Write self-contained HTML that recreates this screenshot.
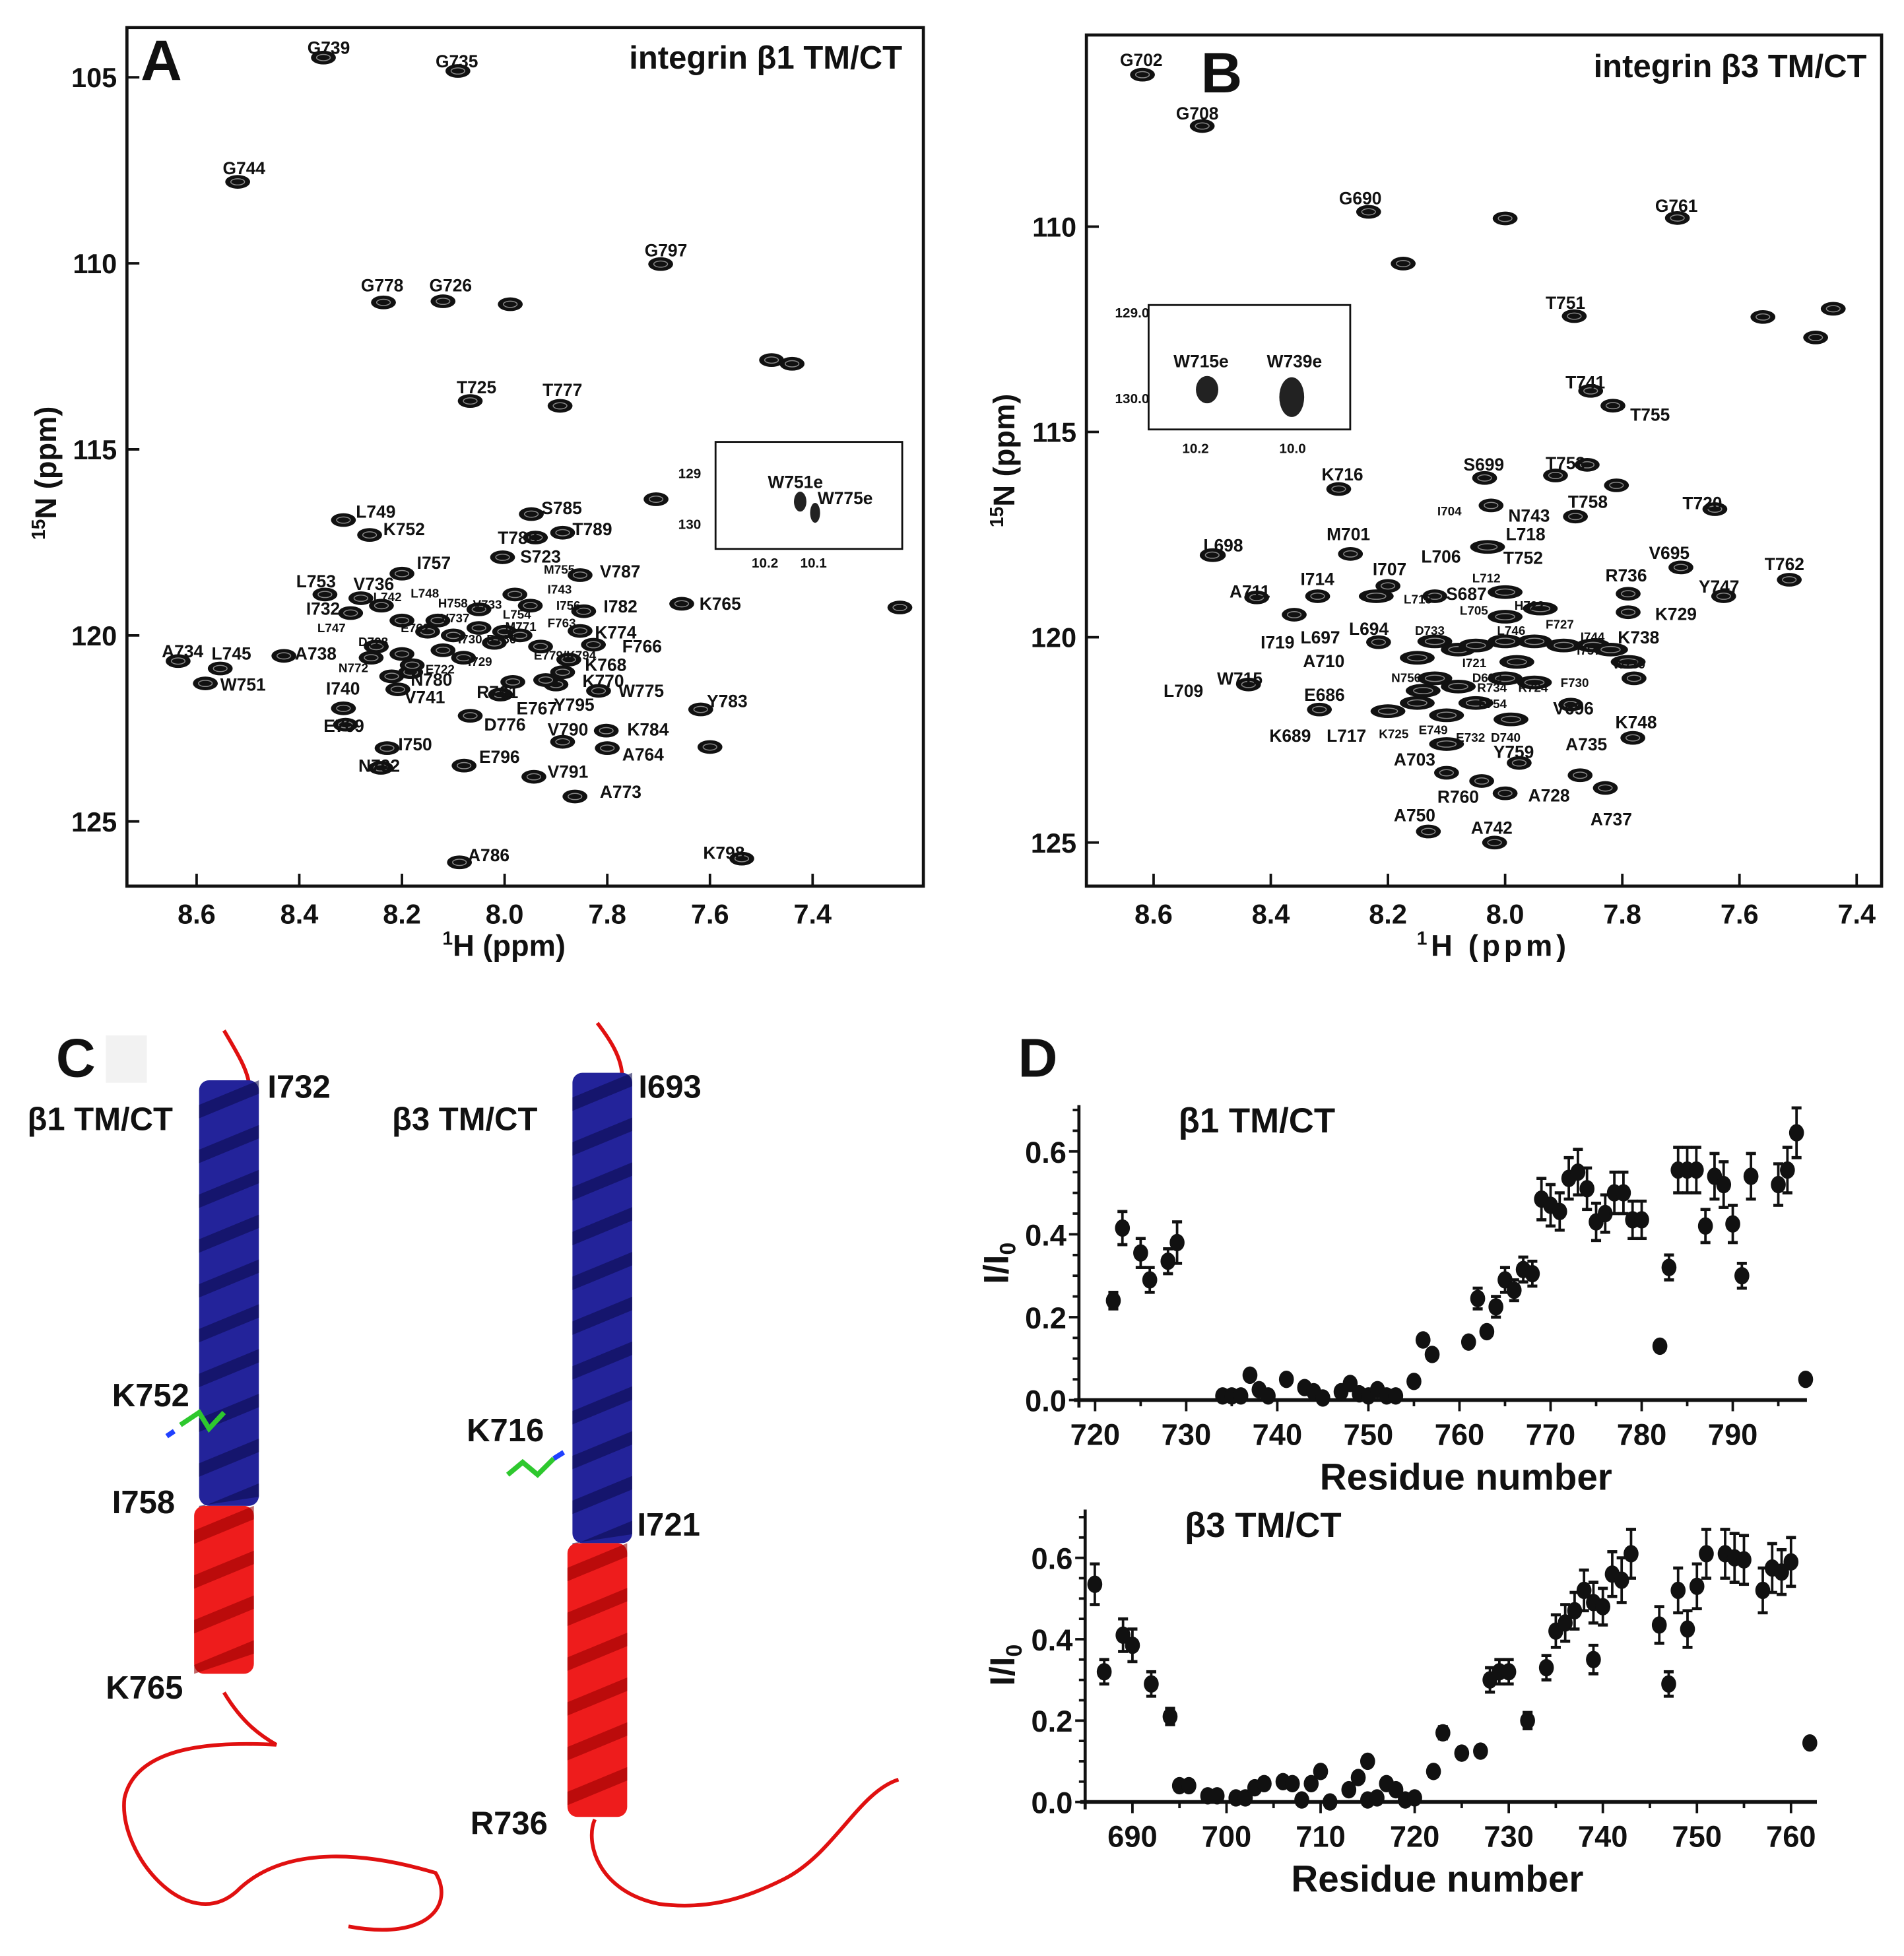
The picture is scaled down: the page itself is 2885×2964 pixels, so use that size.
<!DOCTYPE html>
<html><head><meta charset="utf-8"><style>
html,body{margin:0;padding:0;background:#fff}
svg text{font-family:"Liberation Sans",sans-serif;font-weight:bold;fill:#111}
</style></head><body>
<svg id="fig" width="2885" height="2959" viewBox="0 0 1530 1569" xmlns="http://www.w3.org/2000/svg">
<rect width="1530" height="1569" fill="#fff"/>
<!-- Panel A -->
<g id="pa">
<rect x="102" y="22" width="640" height="690" fill="none" stroke="#111" stroke-width="2.5"/>
<text x="113" y="64" font-size="46">A</text>
<text x="725" y="55" font-size="26" text-anchor="end">integrin  β1 TM/CT</text>
<text x="405" y="768" font-size="24" text-anchor="middle"><tspan font-size="15" dy="-9">1</tspan><tspan dy="9">H (ppm)</tspan></text>
<text transform="translate(45,380) rotate(-90)" font-size="24" text-anchor="middle"><tspan font-size="15" dy="-9">15</tspan><tspan dy="9">N (ppm)</tspan></text>
<g id="pa-ticks"></g><g id="pa-peaks"></g><g id="pa-labels" font-size="14"></g>
<rect x="575" y="355" width="150" height="86" fill="#fff" stroke="#111" stroke-width="1.5"/>
<ellipse cx="643" cy="403" rx="5" ry="8" fill="#222"/>
<ellipse cx="655" cy="412" rx="4" ry="8" fill="#222"/>
<text x="617" y="392" font-size="14">W751e</text><text x="657" y="405" font-size="14">W775e</text>
<text x="545" y="384" font-size="11">129</text><text x="545" y="425" font-size="11">130</text>
<text x="604" y="456" font-size="11">10.2</text><text x="643" y="456" font-size="11">10.1</text>
</g>
<!-- Panel B -->
<g id="pb">
<rect x="873" y="28" width="639" height="684" fill="none" stroke="#111" stroke-width="2.5"/>
<text x="965" y="74" font-size="46">B</text>
<text x="1500" y="62" font-size="26" text-anchor="end">integrin  β3 TM/CT</text>
<text x="1200" y="768" font-size="24" text-anchor="middle" letter-spacing="3"><tspan font-size="15" dy="-9">1</tspan><tspan dy="9">H (ppm)</tspan></text>
<text transform="translate(815,370) rotate(-90)" font-size="24" text-anchor="middle"><tspan font-size="15" dy="-9">15</tspan><tspan dy="9">N (ppm)</tspan></text>
<g id="pb-ticks"></g><g id="pb-peaks"></g><g id="pb-labels" font-size="14"></g>
<rect x="923" y="245" width="162" height="100" fill="#fff" stroke="#111" stroke-width="1.5"/>
<ellipse cx="970" cy="313" rx="9" ry="11" fill="#222"/>
<ellipse cx="1038" cy="319" rx="10" ry="16" fill="#222"/>
<text x="943" y="295" font-size="14">W715e</text><text x="1018" y="295" font-size="14">W739e</text>
<text x="896" y="255" font-size="11">129.0</text><text x="896" y="324" font-size="11">130.0</text>
<text x="950" y="364" font-size="11">10.2</text><text x="1028" y="364" font-size="11">10.0</text>
</g>
<!-- Panel C -->
<g id="pc">
<text x="45" y="865" font-size="44">C</text>
<rect x="85" y="832" width="33" height="38" fill="#f2f2f2"/>
<path d="M180,828 C190,845 198,858 200,870" stroke="#e01010" stroke-width="3" fill="none"/>
<path d="M480,822 C490,835 500,850 500,866" stroke="#e01010" stroke-width="3" fill="none"/>
<path d="M180,1360 C195,1385 210,1395 222,1402 C180,1400 110,1400 100,1445 C95,1490 150,1555 190,1520 C230,1480 300,1490 350,1505 C365,1530 345,1560 280,1548" stroke="#e01010" stroke-width="3" fill="none"/>
<path d="M478,1462 C470,1480 480,1520 530,1530 C570,1535 600,1525 630,1510 C670,1490 690,1440 722,1430" stroke="#e01010" stroke-width="3" fill="none"/>
<g id="helices"></g>
<g stroke-width="4"><path d="M145,1145 L160,1135 L168,1148 L180,1135" stroke="#2ec82e" fill="none"/><path d="M140,1150 l-6,4" stroke="#2040ff"/></g>
<g stroke-width="4"><path d="M408,1185 L420,1175 L432,1185 L445,1172" stroke="#2ec82e" fill="none"/><path d="M445,1172 l8,-5" stroke="#2040ff"/></g>
<text x="22" y="908" font-size="26">β1 TM/CT</text><text x="315" y="908" font-size="26">β3 TM/CT</text>
<text x="215" y="882" font-size="26">I732</text><text x="90" y="1130" font-size="26">K752</text>
<text x="90" y="1216" font-size="26">I758</text><text x="85" y="1365" font-size="26">K765</text>
<text x="513" y="882" font-size="26">I693</text><text x="375" y="1158" font-size="26">K716</text>
<text x="512" y="1234" font-size="26">I721</text><text x="378" y="1474" font-size="26">R736</text>
</g>
<!-- Panel D -->
<g id="pd">
<text x="818" y="865" font-size="44">D</text>
<g id="d1"></g><g id="d2"></g>
</g>
</svg>
<script>
var NS='http://www.w3.org/2000/svg';
function mk(tag,attrs,parent){var e=document.createElementNS(NS,tag);for(var k in attrs)e.setAttribute(k,attrs[k]);parent.appendChild(e);return e;}
// ---- Panel A data ----
var aH=[8.353,8.091,8.52,7.696,8.236,8.12,7.989,8.067,7.892,7.948,7.94,7.887,8.314,8.263,8.004,7.853,8.2,7.655,8.636,8.554,8.583,8.43,8.314,8.31,7.827,7.817,7.618,7.802,7.8,7.887,7.943,7.863,8.079,8.241,8.229,8.067,8.008,7.984,7.9,7.887,7.875,7.853,7.846,8.208,8.183,8.088,7.538,7.705,7.23,7.48,7.44,7.6,
8.28,8.24,8.2,8.15,8.1,8.05,8.0,7.97,7.95,7.98,8.25,8.2,8.18,8.22,8.12,8.08,8.02,7.93,7.92,8.05,8.3,8.35,8.26,8.13];
var aN=[104.47,104.83,107.81,110.02,111.05,111.02,111.1,113.7,113.83,116.74,117.37,117.24,116.9,117.3,117.9,118.38,118.34,119.15,120.69,120.89,121.29,120.55,121.96,122.4,120.25,121.49,121.99,122.56,123.03,122.86,123.8,124.33,123.5,123.56,123.03,122.16,121.59,121.25,121.32,120.99,120.65,119.88,119.35,121.45,120.99,126.1,126.0,116.34,119.25,112.6,112.7,123.0,
119.0,119.2,119.6,119.9,120.0,119.8,119.9,120.0,119.2,118.9,120.3,120.5,120.8,121.1,120.4,120.6,120.2,120.3,121.2,119.3,119.4,118.9,120.6,119.6];
var aLabels=[["G739",247,43],["G735",350,54],["G744",179,140],["G797",518,206],["G778",290,234],["G726",345,234],["T725",367,316],["T777",436,318],["S785",435,413],["T788",400,437],["T789",460,430],["L749",286,416],["K752",308,430],["S723",418,452],["V787",482,464],["I757",335,457],["K765",562,490],["A734",130,528],["L745",170,530],["W751",177,555],["A738",237,530],["I740",262,558],["E769",260,588],["F766",500,524],["W775",497,560],["Y783",568,568],["K784",504,591],["A764",500,611],["V790",440,591],["V791",440,625],["A773",482,641],["E796",385,613],["N792",288,620],["I750",320,603],["D776",389,587],["R761",383,561],["E767",415,574],["Y795",445,571],["K770",468,552],["K768",470,539],["K774",478,513],["I782",485,492],["V741",325,565],["N780",330,551],["A786",376,692],["K798",565,690],["V736",284,474],["L753",238,472],["I732",246,494]];
var aSmall=[["L747",255,508],["L742",300,483],["L748",330,480],["H758",352,488],["V733",380,489],["M755",437,461],["I743",440,477],["I756",447,490],["L754",404,497],["D728",288,519],["E762",322,508],["N772",272,540],["E722",342,541],["I729",376,535],["R760",391,517],["I730",368,517],["M771",406,507],["F763",440,504],["E779/K794",429,530],["V737",354,500]];
// ---- Panel B data ----
var bH=[8.619,8.517,8.233,7.706,8.174,8.0,7.882,7.854,7.816,8.284,8.035,7.914,7.88,8.024,7.642,8.498,8.264,7.7,7.515,7.79,7.79,7.627,8.424,8.36,8.216,8.438,8.317,7.888,7.782,7.976,7.872,7.829,8.131,8.018,7.86,7.81,7.56,7.47,7.44,8.1,8.0,8.04,8.12,8.32,8.2,8.5,7.78,
8.12,8.08,8.05,8.0,7.95,7.9,7.85,7.82,8.12,8.08,8.05,8.0,7.95,8.15,8.2,8.1,7.98,8.15,8.03,8.0,8.0,7.94,8.22,8.14,7.99,7.79,8.1];
var bN=[106.3,107.55,109.64,109.79,110.9,109.8,112.18,114.0,114.36,116.39,116.12,116.06,117.06,116.79,116.88,118.0,117.97,118.3,118.6,118.94,119.39,119.0,119.03,119.45,120.12,121.15,121.76,121.64,122.45,123.06,123.36,123.67,124.73,125.0,115.8,116.3,112.2,112.7,112.0,123.3,123.8,123.5,119.0,119.0,118.75,118.0,121.0,
120.1,120.3,120.2,120.1,120.1,120.2,120.2,120.3,121.0,121.2,121.6,121.0,121.1,121.6,121.8,121.9,120.6,120.5,117.8,118.9,119.5,119.3,119.0,121.3,122.0,120.6,122.6];
var bLabels=[["G702",900,53],["G708",945,96],["G690",1076,164],["G761",1330,170],["T751",1242,248],["T741",1258,312],["T755",1310,338],["K716",1062,386],["S699",1176,378],["T753",1242,377],["T758",1260,408],["N743",1212,419],["L718",1210,434],["L706",1142,452],["T752",1208,453],["S687",1162,482],["T720",1352,409],["L698",967,443],["M701",1066,434],["V695",1325,449],["T762",1418,458],["R736",1290,467],["K729",1330,498],["Y747",1365,476],["K738",1300,517],["A711",988,480],["I707",1103,462],["L697",1045,517],["I719",1013,521],["L694",1084,510],["A710",1047,536],["W715",978,550],["E686",1048,563],["L709",935,560],["K689",1020,596],["L717",1066,596],["V696",1248,574],["K748",1298,585],["Y759",1200,609],["A735",1258,603],["A737",1278,663],["A703",1120,615],["R760",1155,645],["A728",1228,644],["A750",1120,660],["A742",1182,670],["I714",1045,470]];
var bSmall=[["I704",1155,414],["L712",1183,468],["L705",1173,494],["L713",1128,485],["H722",1217,490],["F727",1242,505],["I744",1270,515],["L746",1203,510],["I757",1267,526],["W739",1296,537],["R734",1187,556],["R724",1220,556],["F730",1254,552],["F754",1188,569],["D733",1137,510],["I721",1175,536],["N756",1118,548],["D692",1183,548],["K725",1108,593],["E749",1140,590],["E732",1170,596],["D740",1198,596]];
var aXTicks=[8.6,8.4,8.2,8.0,7.8,7.6,7.4], aYTicks=[105,110,115,120,125];
var bXTicks=[8.6,8.4,8.2,8.0,7.8,7.6,7.4], bYTicks=[110,115,120,125];
function axA(h){return 158+(8.6-h)*412.5;} function ayA(n){return 62+(n-105)*29.9;}
function axB(h){return 927+(8.6-h)*470.8;} function ayB(n){return 182+(n-110)*33;}
function hsqc(gt,gp,gl,H,N,L,S,xt,yt,fx,fy,x0,x1,yb,big){
  xt.forEach(function(t){var x=fx(t);mk('line',{x1:x,x2:x,y1:yb,y2:yb-10,stroke:'#111','stroke-width':2},gt);
    var tx=mk('text',{x:x,y:yb+30,'font-size':22,'text-anchor':'middle'},gt);tx.textContent=t.toFixed(1);
    
    });
  yt.forEach(function(t){var y=fy(t);mk('line',{x1:x0,x2:x0+10,y1:y,y2:y,stroke:'#111','stroke-width':2},gt);
    var tx=mk('text',{x:x0-8,y:y+8,'font-size':22,'text-anchor':'end'},gt);tx.textContent=t;
    
    });
  for(var i=0;i<H.length;i++){var cx=fx(H[i]),cy=fy(N[i]);var r=big&&i>=47?14:10;
    var e=mk('ellipse',{cx:cx,cy:cy,rx:r,ry:5.5,fill:'#111'},gp);
    
    
    mk('ellipse',{cx:cx,cy:cy,rx:r*0.55,ry:2.5,fill:'none',stroke:'#888','stroke-width':0.8},gp);}
  L.forEach(function(l){var t=mk('text',{x:l[1],y:l[2]},gl);t.textContent=l[0];
    
    });
  S.forEach(function(l){var t=mk('text',{x:l[1],y:l[2],'font-size':10},gl);t.textContent=l[0];
    
    });
}
hsqc(document.getElementById('pa-ticks'),document.getElementById('pa-peaks'),document.getElementById('pa-labels'),aH,aN,aLabels,aSmall,aXTicks,aYTicks,axA,ayA,102,742,712,false);
hsqc(document.getElementById('pb-ticks'),document.getElementById('pb-peaks'),document.getElementById('pb-labels'),bH,bN,bLabels,bSmall,bXTicks,bYTicks,axB,ayB,873,1512,712,true);
// ---- Helices ----
var hg=document.getElementById('helices');
function helix(cx,y1,y2,color,dark){var w=48,p=36;
  mk('rect',{x:cx-w/2,y:y1,width:w,height:y2-y1,fill:color,rx:8},hg);
  for(var y=y1;y<y2-6;y+=p){
    mk('path',{d:'M'+(cx-w/2)+','+(y+p*0.55)+' L'+(cx+w/2)+','+y+' L'+(cx+w/2)+','+(y+p*0.3)+' L'+(cx-w/2)+','+Math.min(y+p*0.85,y2)+'Z',fill:dark,opacity:0.6},hg);}
}
helix(184,868,1210,'#23239a','#0c0c50');helix(180,1210,1345,'#ee1c1c','#900');
helix(484,862,1240,'#23239a','#0c0c50');helix(480,1240,1460,'#ee1c1c','#900');
// ---- Panel D data ----
var d1Res=[722,723,725,726,728,729,734,735,736,737,738,739,741,743,744,745,747,748,749,750,751,752,753,755,756,757,761,762,763,764,765,766,767,768,769,770,771,772,773,774,775,776,777,778,779,780,782,783,784,785,786,787,788,789,790,791,792,795,796,797,798];
var d1Val=[.24,.415,.355,.29,.335,.38,.01,.01,.01,.06,.025,.01,.05,.03,.02,.005,.02,.04,.015,.01,.025,.01,.01,.045,.145,.11,.14,.245,.165,.225,.29,.265,.315,.305,.485,.47,.455,.535,.55,.51,.43,.45,.5,.5,.435,.435,.13,.32,.555,.555,.555,.42,.54,.52,.425,.3,.54,.52,.555,.645,.05];
var d1Err=[.02,.04,.035,.03,.03,.05,0,0,0,0,0,0,0,0,0,0,0,0,0,0,0,0,0,0,0,0,0,.025,0,.025,.03,.025,.03,.03,.05,.05,.045,.05,.055,.05,.045,.045,.05,.05,.045,.045,0,.03,.055,.055,.055,.04,.055,.055,.045,.03,.055,.05,.055,.06,0];
var d2Res=[686,687,689,690,692,694,695,696,698,699,701,702,703,704,706,707,708,709,710,711,713,714,715,715,716,717,718,719,720,722,723,725,727,728,729,730,732,734,735,736,737,738,739,739,740,741,742,743,746,747,748,749,750,751,753,754,755,757,758,759,760,762];
var d2Val=[.535,.32,.41,.385,.29,.21,.04,.04,.015,.015,.01,.01,.035,.045,.05,.045,.005,.045,.075,0,.03,.06,.1,.005,.01,.045,.03,.005,.01,.075,.17,.12,.125,.3,.32,.32,.2,.33,.42,.44,.47,.52,.35,.49,.48,.56,.545,.61,.435,.29,.52,.425,.53,.61,.61,.6,.595,.52,.575,.565,.59,.145];
var d2Err=[.05,.03,.04,.04,.03,.02,0,0,0,0,0,0,0,0,0,0,0,0,0,0,0,0,0,0,0,0,0,0,0,0,.015,0,0,.03,.03,.03,.02,.03,.04,.045,.045,.05,.035,.05,.045,.055,.055,.06,.045,.03,.055,.045,.055,.06,.06,.06,.06,.055,.06,.055,.06,0];
var d1XTicks=[720,730,740,750,760,770,780,790], d2XTicks=[690,700,710,720,730,740,750,760], dYTicks=[0,0.2,0.4,0.6];
function plotD(g,R,V,E,xt,o,title){
  var fx=function(r){return o.x0px+(r-o.r0)*o.pxr;}, fy=function(v){return o.y0-v*o.pyv;};
  mk('line',{x1:o.ax,x2:o.ax,y1:o.top,y2:o.y0+6,stroke:'#111','stroke-width':2.5},g);
  mk('line',{x1:o.ax-4,x2:o.right,y1:o.y0,y2:o.y0,stroke:'#111','stroke-width':3},g);
  for(var v=0;v<=0.7001;v+=0.05){var y=fy(v);var mj=Math.abs(v*10-Math.round(v*10))<1e-6&&Math.round(v*10)%2==0;
    mk('line',{x1:o.ax-(mj?8:5),x2:o.ax,y1:y,y2:y,stroke:'#111','stroke-width':2},g);}
  dYTicks.forEach(function(t){var tx=mk('text',{x:o.ax-10,y:fy(t)+9,'font-size':24,'text-anchor':'end'},g);tx.textContent=t.toFixed(1);
    
    });
  for(var r=o.rmin;r<=o.rmax;r+=5){var x=fx(r);mk('line',{x1:x,x2:x,y1:o.y0,y2:o.y0+(r%10==0?9:5),stroke:'#111','stroke-width':2},g);}
  xt.forEach(function(t){var tx=mk('text',{x:fx(t),y:o.y0+36,'font-size':24,'text-anchor':'middle'},g);tx.textContent=t;
    
    });
  var xl=mk('text',{x:o.xlx,y:o.y0+72,'font-size':30,'text-anchor':'middle'},g);xl.textContent='Residue number';
  
  
  var yl=mk('text',{transform:'translate('+(o.ax-57)+','+(o.y0-110)+') rotate(-90)','font-size':28,'text-anchor':'middle'},g);
  yl.innerHTML='I/I<tspan font-size="18" dy="6">0</tspan>';
  
  
  var tt=mk('text',{x:o.ax+80,y:o.top+22,'font-size':28},g);tt.textContent=title;
  
  
  for(var i=0;i<R.length;i++){var x=fx(R[i]),y=fy(V[i]);
    if(E[i]>0){var y1=fy(V[i]+E[i]),y2=fy(V[i]-E[i]);
      mk('line',{x1:x,x2:x,y1:y1,y2:y2,stroke:'#111','stroke-width':2},g);
      mk('line',{x1:x-4,x2:x+4,y1:y1,y2:y1,stroke:'#111','stroke-width':2.5},g);
      mk('line',{x1:x-4,x2:x+4,y1:y2,y2:y2,stroke:'#111','stroke-width':2.5},g);}
    var c=mk('ellipse',{cx:x,cy:y,rx:6,ry:7,fill:'#111'},g);
    
    }
}
plotD(document.getElementById('d1'),d1Res,d1Val,d1Err,d1XTicks,{x0px:880,r0:720,pxr:7.32,y0:1125,pyv:333,ax:867,top:888,right:1452,rmin:720,rmax:795,xlx:1178},'β1 TM/CT');
plotD(document.getElementById('d2'),d2Res,d2Val,d2Err,d2XTicks,{x0px:910,r0:690,pxr:7.56,y0:1448,pyv:327,ax:872,top:1213,right:1460,rmin:685,rmax:760,xlx:1155},'β3 TM/CT');
</script>
</body></html>
